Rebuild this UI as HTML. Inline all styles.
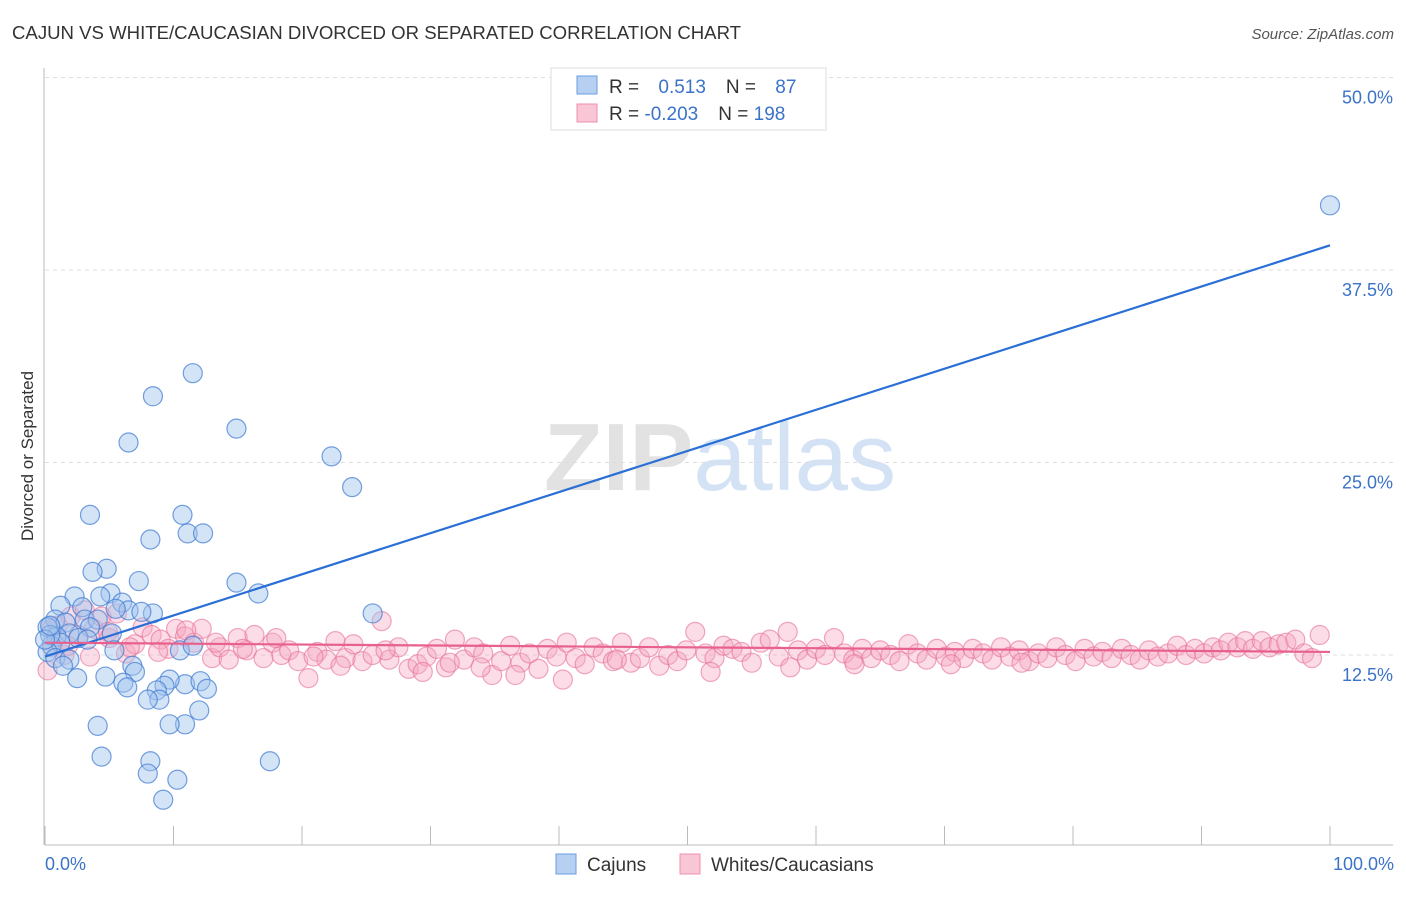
<!DOCTYPE html>
<html><head><meta charset="utf-8"><style>
body{margin:0;background:#fff;font-family:"Liberation Sans",sans-serif}
svg text{font-family:"Liberation Sans",sans-serif}
</style></head><body>
<svg id="chart" width="1406" height="892" xmlns="http://www.w3.org/2000/svg">
<text x="12" y="39" font-size="18.6" fill="#333">CAJUN VS WHITE/CAUCASIAN DIVORCED OR SEPARATED CORRELATION CHART</text>
<text x="1394" y="39" font-size="15" fill="#555" text-anchor="end" font-style="italic">Source: ZipAtlas.com</text>
<text x="720" y="490" font-size="96" fill="#e2e2e2" text-anchor="middle" font-family="Liberation Serif" font-weight="bold">ZIP<tspan fill="#d3e2f4" font-family="Liberation Sans" font-weight="normal">atlas</tspan></text>
<g id="grid"></g>
<g id="axes"></g>
<g id="pink"></g>
<g id="blue"></g>
<g id="lines"></g>
<text transform="translate(33,456) rotate(-90)" font-size="17" fill="#333" text-anchor="middle">Divorced or Separated</text>
<g>
<rect x="551" y="68" width="275" height="62" fill="#fff" stroke="#ddd"/>
<rect x="577" y="76" width="20" height="18" fill="#b7d0f2" stroke="#6a9ee0"/>
<rect x="577" y="104" width="20" height="18" fill="#f9c6d6" stroke="#ee8fae"/>
<text x="609" y="93" font-size="19" fill="#333">R = <tspan fill="#3b73c8" dx="14">0.513</tspan><tspan dx="20" fill="#333">N = </tspan><tspan fill="#3b73c8" dx="14">87</tspan></text>
<text x="609" y="120" font-size="19" fill="#333">R = <tspan fill="#3b73c8">-0.203</tspan><tspan dx="20" fill="#333">N = </tspan><tspan fill="#3b73c8">198</tspan></text>
</g>
<g>
<rect x="556" y="854" width="20" height="20" fill="#b7d0f2" stroke="#6a9ee0"/>
<text x="587" y="871" font-size="19" fill="#333">Cajuns</text>
<rect x="680" y="854" width="20" height="20" fill="#f9c6d6" stroke="#ee8fae"/>
<text x="711" y="871" font-size="19" fill="#333">Whites/Caucasians</text>
</g>
</svg>
<script>
const yTicks=[12.5,25,37.5,50];
const yTickLabels=["12.5%","25.0%","37.5%","50.0%"];
const xTickLabels=["0.0%","100.0%"];
const blueX=[100,11.5,8.4,14.9,6.5,22.3,23.9,3.5,10.7,11.1,12.3,8.2,4.8,3.7,7.3,14.9,16.6,5.1,2.3,4.3,1.2,6.0,6.5,2.9,5.5,8.4,7.5,25.5,0.8,3.1,4.1,1.6,0.2,3.5,1.9,5.2,0.9,2.6,0.5,1.2,3.3,5.4,10.5,11.5,0.2,0.8,1.9,1.4,6.8,7.0,4.7,2.5,6.1,6.4,10.9,12.1,12.6,9.7,9.3,8.7,8.9,8.0,12.0,4.1,10.9,9.7,4.4,8.2,17.5,8.0,10.3,9.2,0.4,0.0,0.4];
const blueY=[41.7,30.8,29.3,27.2,26.3,25.4,23.4,21.6,21.6,20.4,20.4,20.0,18.1,17.9,17.3,17.2,16.5,16.5,16.3,16.3,15.7,15.9,15.4,15.6,15.5,15.2,15.3,15.2,14.8,14.8,14.8,14.6,14.3,14.3,13.9,13.9,13.7,13.6,13.1,13.3,13.5,12.8,12.8,13.1,12.7,12.3,12.2,11.8,11.8,11.4,11.1,11.0,10.7,10.4,10.6,10.8,10.3,10.9,10.5,10.2,9.6,9.6,8.9,7.9,8.0,8.0,5.9,5.6,5.6,4.8,4.4,3.1,13.8,13.5,14.4];
const pinkX=[0.2,0.6,1.0,1.5,2.0,2.6,3.1,3.8,4.4,5.0,5.6,6.3,7.0,7.6,8.3,9.0,9.6,10.2,10.9,11.6,12.2,13.0,13.6,14.3,15.0,15.7,16.3,17.0,17.7,18.4,19.0,19.7,20.5,21.2,21.9,22.6,23.4,24.0,24.7,25.5,26.2,26.8,27.5,28.3,29.0,29.7,30.5,31.2,31.9,32.6,33.4,34.1,34.8,35.5,36.2,37.0,37.7,38.4,39.1,39.8,40.6,41.3,42.0,42.7,43.4,44.2,44.9,45.6,46.3,47.0,47.8,48.5,49.2,49.9,50.6,51.4,52.1,52.8,53.5,54.2,55.0,55.7,56.4,57.1,57.8,58.6,59.3,60.0,60.7,61.4,62.2,62.9,63.6,64.3,65.0,65.8,66.5,67.2,67.9,68.6,69.4,70.1,70.8,71.5,72.2,73.0,73.7,74.4,75.1,75.8,76.6,77.3,78.0,78.7,79.4,80.2,80.9,81.6,82.3,83.0,83.8,84.5,85.2,85.9,86.6,87.4,88.1,88.8,89.5,90.2,90.9,91.5,92.1,92.8,93.4,94.0,94.7,95.3,96.0,96.6,97.3,98.0,98.6,99.2,0.5,1.8,3.5,4.9,6.6,8.8,11.0,13.3,15.4,18.0,20.9,23.0,26.5,29.4,31.5,33.9,36.6,40.3,44.5,51.8,58.0,63.0,70.5,76.0];
const pinkY=[11.5,13.0,14.4,12.5,15.0,13.8,15.4,14.2,15.0,13.6,15.2,12.6,13.2,14.3,13.8,13.5,12.9,14.2,13.7,13.3,14.2,12.3,13.0,12.2,13.6,12.8,13.8,12.3,13.3,12.5,12.8,12.1,11.0,12.7,12.2,13.4,12.3,13.2,12.1,12.5,14.7,12.2,13.0,11.6,11.9,12.4,12.9,11.7,13.5,12.2,13.0,12.6,11.2,12.1,13.1,12.0,12.6,11.6,12.9,12.4,13.3,12.3,11.9,13.0,12.6,12.1,13.3,12.0,12.3,13.0,11.8,12.5,12.1,12.8,14.0,12.6,12.3,13.1,12.9,12.7,12.0,13.3,13.5,12.4,14.0,12.8,12.2,12.9,12.5,13.6,12.6,12.2,12.9,12.3,12.8,12.5,12.1,13.2,12.6,12.2,12.9,12.4,12.7,12.3,12.9,12.6,12.2,13.0,12.4,12.8,12.1,12.6,12.3,13.0,12.5,12.1,12.9,12.4,12.7,12.3,12.9,12.5,12.2,12.8,12.4,12.6,13.1,12.5,12.9,12.6,13.0,12.8,13.3,13.0,13.4,12.9,13.4,13.0,13.2,13.3,13.5,12.6,12.3,13.8,14.2,13.1,12.4,14.0,13.0,12.7,14.1,13.3,12.9,13.6,12.4,11.8,12.8,11.4,12.0,11.7,11.2,10.9,12.2,11.4,11.7,11.9,11.9,12.0];
const blueTrend=[12.4,39.1];
const pinkTrend=[13.3,12.7];
const X=v=>45+v*12.85, Y=v=>847.5-v*15.4;
const NS="http://www.w3.org/2000/svg";
function mk(tag,attrs,parent){const e=document.createElementNS(NS,tag);for(const k in attrs)e.setAttribute(k,attrs[k]);document.getElementById(parent).appendChild(e);return e;}
yTicks.forEach((t,i)=>{
  const g=mk('line',{x1:45,x2:1393,y1:Y(t),y2:Y(t),stroke:'#ddd','stroke-dasharray':'4,4'},'grid');
  
  
  const l=mk('text',{x:1393,y:Y(t)+26,'font-size':18,fill:'#3b73c8','text-anchor':'end'},'grid');
  
  
  l.textContent=yTickLabels[i];
});
const ax=mk('line',{x1:45,x2:1393,y1:845,y2:845,stroke:'#bbb'},'axes');


const ay=mk('line',{x1:44,x2:44,y1:68,y2:845,stroke:'#bbb'},'axes');


for(let k=0;k<=10;k++){
  const t=mk('line',{x1:X(k*10),x2:X(k*10),y1:826,y2:845,stroke:'#bbb'},'axes');
  
  
}
[[0,'start',45],[100,'end',1394]].forEach((d,i)=>{
  const l=mk('text',{x:d[2],y:870,'font-size':18,fill:'#3b73c8','text-anchor':d[1]},'axes');
  
  
  l.textContent=xTickLabels[i];
});
pinkX.forEach((x,i)=>{
  const c=mk('circle',{cx:X(x),cy:Y(pinkY[i]),r:9.5,fill:'rgba(246,168,194,0.4)',stroke:'rgba(232,110,150,0.6)','stroke-width':1.2},'pink');
  
  
});
blueX.forEach((x,i)=>{
  const c=mk('circle',{cx:X(x),cy:Y(blueY[i]),r:9.5,fill:'rgba(160,195,238,0.45)',stroke:'rgba(60,120,210,0.7)','stroke-width':1.2},'blue');
  
  
});
const bl=mk('line',{x1:X(0),x2:X(100),y1:Y(blueTrend[0]),y2:Y(blueTrend[1]),stroke:'#2a6fd6','stroke-width':2.2},'lines');


const pl=mk('line',{x1:X(0),x2:X(100),y1:Y(pinkTrend[0]),y2:Y(pinkTrend[1]),stroke:'#e8618c','stroke-width':2.2},'lines');


</script>
</body></html>
